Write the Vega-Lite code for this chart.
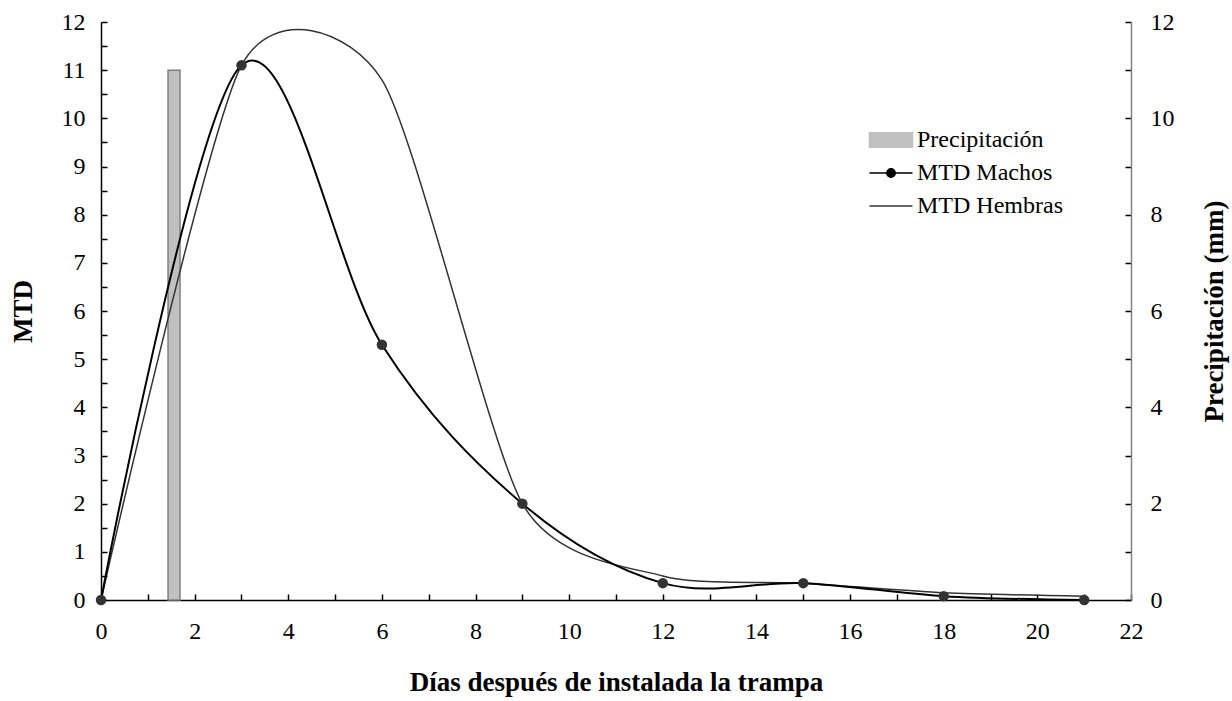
{
  "$schema": "https://vega.github.io/schema/vega-lite/v6.json",
  "width": 1030,
  "height": 578,
  "autosize": {"type": "none"},
  "padding": {"left": 101, "top": 22, "right": 101, "bottom": 101},
  "background": "white",
  "config": {
    "view": {"stroke": null},
    "font": "Liberation Serif",
    "style": {
      "guide-label": {"font": "Liberation Serif", "fill": "#000000"},
      "guide-title": {"font": "Liberation Serif", "fill": "#000000"}
    },
    "axis": {
      "grid": false,
      "labelFont": "Liberation Serif",
      "titleFont": "Liberation Serif",
      "labelFontSize": 24,
      "titleFontSize": 27,
      "titleFontWeight": "bold",
      "labelColor": "#000000",
      "titleColor": "#000000",
      "domainColor": "#000000",
      "tickColor": "#000000",
      "domainWidth": 1.5,
      "tickWidth": 1.5,
      "labelOverlap": false,
      "labelFlush": false
    },
    "legend": {
      "labelFont": "Liberation Serif",
      "labelFontSize": 24,
      "labelColor": "#000000",
      "symbolSize": 400,
      "labelOffset": 14,
      "rowPadding": 9
    }
  },
  "datasets": {
    "mtd": [
      {"dia": 0, "serie": "MTD Machos", "mtd": 0},
      {"dia": 3, "serie": "MTD Machos", "mtd": 11.1},
      {"dia": 6, "serie": "MTD Machos", "mtd": 5.3},
      {"dia": 9, "serie": "MTD Machos", "mtd": 2.0},
      {"dia": 12, "serie": "MTD Machos", "mtd": 0.35},
      {"dia": 15, "serie": "MTD Machos", "mtd": 0.35},
      {"dia": 18, "serie": "MTD Machos", "mtd": 0.08},
      {"dia": 21, "serie": "MTD Machos", "mtd": 0},
      {"dia": 0, "serie": "MTD Hembras", "mtd": 0},
      {"dia": 3, "serie": "MTD Hembras", "mtd": 11.1},
      {"dia": 6, "serie": "MTD Hembras", "mtd": 10.8},
      {"dia": 9, "serie": "MTD Hembras", "mtd": 2.0},
      {"dia": 12, "serie": "MTD Hembras", "mtd": 0.5},
      {"dia": 15, "serie": "MTD Hembras", "mtd": 0.35},
      {"dia": 18, "serie": "MTD Hembras", "mtd": 0.15},
      {"dia": 21, "serie": "MTD Hembras", "mtd": 0.08}
    ],
    "prec": [
      {"dia": 1.56, "serie": "Precipitación", "mm": 11}
    ]
  },
  "encoding": {
    "x": {
      "field": "dia",
      "type": "quantitative",
      "scale": {"domain": [0, 22], "nice": false, "padding": 0},
      "axis": {
        "title": "Días después de instalada la trampa",
        "values": [0,1,2,3,4,5,6,7,8,9,10,11,12,13,14,15,16,17,18,19,20,21,22],
        "labelExpr": "datum.value % 2 === 0 ? format(datum.value, 'd') : ''",
        "labelFont": "Liberation Serif",
        "titleFont": "Liberation Serif",
        "tickSize": -6,
        "labelPadding": 25,
        "titlePadding": 26
      }
    },
    "color": {
      "field": "serie",
      "type": "nominal",
      "scale": {
        "domain": ["Precipitación", "MTD Machos", "MTD Hembras"],
        "range": ["#c0c0c0", "#000000", "#333333"]
      },
      "legend": {
        "title": null,
        "orient": "none",
        "legendX": 778,
        "legendY": 106,
        "labelFont": "Liberation Serif",
        "encode": {
          "labels": {"update": {"font": {"value": "Liberation Serif"}, "fontSize": {"value": 24}, "fill": {"value": "#000000"}}},
          "symbols": {
            "update": {
              "shape": {"signal": "datum.value === 'Precipitación' ? 'M-2.15,-0.73H2.15V0.73H-2.15Z' : (datum.value === 'MTD Machos' ? 'M-2.15,0H2.15M0.42,0A0.42,0.42 0 1,1 -0.42,0A0.42,0.42 0 1,1 0.42,0Z' : 'M-2.15,0H2.15')"},
              "fill": {"signal": "datum.value === 'Precipitación' ? '#c0c0c0' : (datum.value === 'MTD Machos' ? '#333333' : 'transparent')"},
              "stroke": {"signal": "datum.value === 'Precipitación' ? '#808080' : '#222222'"},
              "strokeWidth": {"value": 1.5},
              "opacity": {"value": 1},
              "fillOpacity": {"value": 1},
              "strokeOpacity": {"value": 1}
            }
          }
        }
      }
    }
  },
  "layer": [
    {
      "data": {"name": "prec"},
      "mark": {"type": "bar", "size": 12, "stroke": "#808080", "strokeWidth": 1.5, "opacity": 1},
      "encoding": {
        "y": {
          "field": "mm",
          "type": "quantitative",
          "scale": {"domain": [0, 12], "nice": false},
          "axis": {
            "orient": "right",
            "title": "Precipitación (mm)",
            "values": [0,1,2,3,4,5,6,7,8,9,10,11,12],
            "labelExpr": "datum.value % 2 === 0 ? format(datum.value, 'd') : ''",
            "labelFont": "Liberation Serif",
            "titleFont": "Liberation Serif",
            "tickSize": -6,
            "labelPadding": 25,
            "domainColor": "#808080",
            "titleAngle": 270,
            "titleBaseline": "top",
            "titlePadding": 27
          }
        }
      }
    },
    {
      "data": {"name": "mtd"},
      "encoding": {
        "y": {
          "field": "mtd",
          "type": "quantitative",
          "scale": {"domain": [0, 12], "nice": false},
          "axis": {
            "orient": "left",
            "title": "MTD",
            "values": [0,0.5,1,1.5,2,2.5,3,3.5,4,4.5,5,5.5,6,6.5,7,7.5,8,8.5,9,9.5,10,10.5,11,11.5,12],
            "labelExpr": "datum.value % 1 === 0 ? format(datum.value, 'd') : ''",
            "labelFont": "Liberation Serif",
            "titleFont": "Liberation Serif",
            "tickSize": -6,
            "labelPadding": 22,
            "titlePadding": 24
          }
        }
      },
      "layer": [
        {
          "transform": [{"filter": "datum.serie === 'MTD Hembras'"}],
          "mark": {"type": "line", "interpolate": "cardinal", "tension": 0.3, "strokeWidth": 1.5}
        },
        {
          "transform": [{"filter": "datum.serie === 'MTD Machos'"}],
          "mark": {"type": "line", "interpolate": "cardinal", "tension": 0, "strokeWidth": 2}
        },
        {
          "transform": [{"filter": "datum.serie === 'MTD Machos'"}],
          "mark": {"type": "point", "filled": true, "size": 110, "opacity": 1},
          "encoding": {"color": {"value": "#333333"}}
        }
      ]
    }
  ],
  "resolve": {"scale": {"y": "independent"}}
}
